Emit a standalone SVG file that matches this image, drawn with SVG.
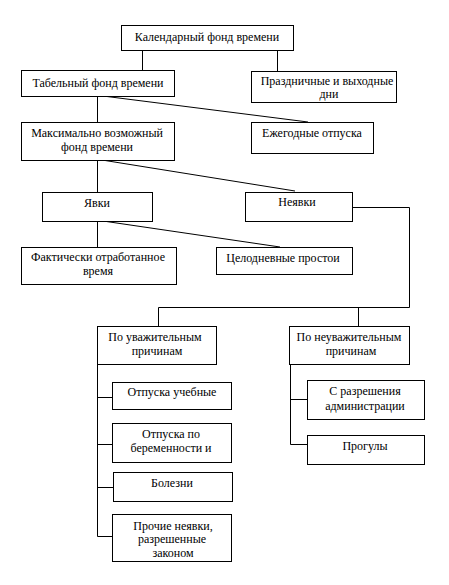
<svg xmlns="http://www.w3.org/2000/svg" width="449" height="585" viewBox="0 0 449 585">
<style>
rect{fill:#fff;stroke:#000;stroke-width:1}
.c line,.c polyline{stroke:#000;stroke-width:1;fill:none}
text{font-family:'Liberation Serif','Times New Roman','DejaVu Serif',serif;font-size:12px;fill:#000;text-anchor:middle}
</style>
<rect x="0" y="0" width="449" height="585" style="stroke:none"/>
<g class="c" id="connectors">
<line x1="142.5" y1="50" x2="142.5" y2="70"/>
<line x1="277.5" y1="50" x2="277.5" y2="71"/>
<line x1="97.5" y1="96" x2="97.5" y2="122"/>
<line x1="103" y1="96" x2="308" y2="122"/>
<line x1="97.5" y1="160" x2="97.5" y2="192"/>
<line x1="102" y1="160" x2="295" y2="191"/>
<line x1="97.5" y1="221" x2="97.5" y2="247"/>
<line x1="103" y1="221" x2="280" y2="247"/>
<polyline points="352,207.5 409.5,207.5 409.5,307.5 158.5,307.5 158.5,326"/>
<line x1="358.5" y1="307.5" x2="358.5" y2="326"/>
<polyline points="97.5,364 97.5,536.5 112,536.5"/>
<line x1="97.5" y1="397.5" x2="112" y2="397.5"/>
<line x1="97.5" y1="444.5" x2="112" y2="444.5"/>
<line x1="97.5" y1="487.5" x2="113" y2="487.5"/>
<polyline points="290.5,364 290.5,444.5 307,444.5"/>
<line x1="290.5" y1="399.5" x2="307" y2="399.5"/>
</g>
<g id="n1"><rect x="121.5" y="25.5" width="172" height="25"/><text x="207" y="41">Календарный фонд времени</text></g>
<g id="n2"><rect x="21.5" y="70.5" width="153" height="26"/><text x="98" y="87">Табельный фонд времени</text></g>
<g id="n3"><rect x="251.5" y="71.5" width="145" height="31"/><text x="327" y="85">Праздничные и выходные</text><text x="329" y="98">дни</text></g>
<g id="n4"><rect x="21.5" y="122.5" width="153" height="38"/><text x="97" y="137">Максимально возможный</text><text x="97" y="151">фонд времени</text></g>
<g id="n5"><rect x="251.5" y="122.5" width="122" height="31"/><text x="312" y="137">Ежегодные отпуска</text></g>
<g id="n6"><rect x="42.5" y="192.5" width="110" height="29"/><text x="97" y="207">Явки</text></g>
<g id="n7"><rect x="245.5" y="192.5" width="107" height="29"/><text x="297" y="206">Неявки</text></g>
<g id="n8"><rect x="21.5" y="247.5" width="155" height="37"/><text x="98" y="261">Фактически отработанное</text><text x="98" y="275">время</text></g>
<g id="n9"><rect x="216.5" y="247.5" width="136" height="27"/><text x="283" y="262">Целодневные простои</text></g>
<g id="n10"><rect x="97.5" y="326.5" width="119" height="38"/><text x="155" y="341">По уважительным</text><text x="157" y="355">причинам</text></g>
<g id="n11"><rect x="289.5" y="326.5" width="120" height="38"/><text x="349" y="341">По неуважительным</text><text x="351" y="355">причинам</text></g>
<g id="n12"><rect x="112.5" y="382.5" width="119" height="27"/><text x="172" y="396">Отпуска учебные</text></g>
<g id="n13"><rect x="307.5" y="380.5" width="117" height="39"/><text x="365" y="395">С разрешения</text><text x="365" y="410">администрации</text></g>
<g id="n14"><rect x="112.5" y="423.5" width="119" height="39"/><text x="171" y="438">Отпуска по</text><text x="171" y="452">беременности и</text></g>
<g id="n15"><rect x="307.5" y="435.5" width="117" height="29"/><text x="365" y="450">Прогулы</text></g>
<g id="n16"><rect x="113.5" y="472.5" width="119" height="29"/><text x="172" y="487">Болезни</text></g>
<g id="n17"><rect x="112.5" y="514.5" width="119" height="47"/><text x="173" y="530">Прочие неявки,</text><text x="172" y="543">разрешенные</text><text x="173" y="557">законом</text></g>
</svg>
